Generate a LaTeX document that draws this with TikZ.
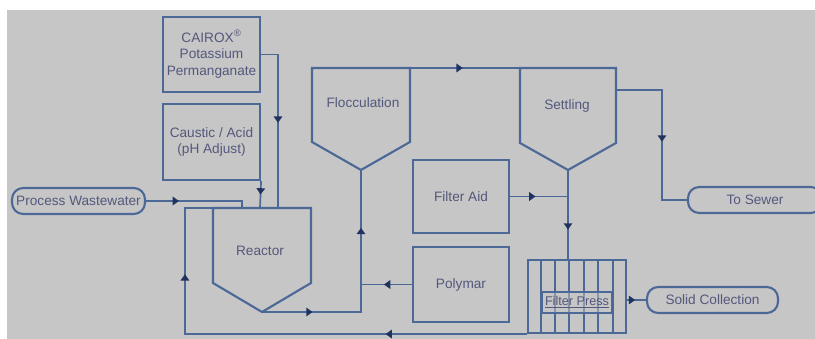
\documentclass[tikz,border=0pt]{standalone}
\usepackage{fontspec}
\setmainfont{Liberation Sans}
\usepackage{tikz}
\usetikzlibrary{
  arrows.meta,
  decorations.markings
}
\definecolor{PanelGray}{RGB}{198, 198, 198}
\definecolor{PipeBlue}{RGB}{76, 104, 150}
\definecolor{TipNavy}{RGB}{32, 50, 96}
\definecolor{LabelGray}{RGB}{84, 88, 124}
\tikzset{
    unitbox/.style={rectangle, draw=PipeBlue, line width=1.5pt, align=center, text=LabelGray,
        font=\fontsize{9.7}{12}\selectfont, inner sep=0pt},
    terminal/.style={unitbox, rounded corners=8pt},
    hopper/.style={draw=PipeBlue, line width=1.5pt},
    tanklabel/.style={text=LabelGray, font=\fontsize{9.7}{12}\selectfont},
    pipe/.style={draw=PipeBlue, line width=1.2pt},
    flowmark/.style={postaction={decorate, decoration={markings,
        mark=at position #1 with {\arrow[TipNavy]{Triangle[length=4.5pt, width=6pt]}}}}}
}

\begin{document}
\begin{tikzpicture}[x=0.025cm, y=-0.025cm]
    \useasboundingbox (0,0) rectangle (815,339);
    \fill[white] (0,0) rectangle (815,339);
    \fill[PanelGray] (7,10) rectangle (815,339);

    % chemical feeds
    \node[unitbox, minimum width=2.425cm, minimum height=1.875cm] (cairox) at (211.5,54.5)
        {CAIROX\textsuperscript{®}\\Potassium\\Permanganate};
    \node[unitbox, minimum width=2.425cm, minimum height=1.9cm] (caustic) at (211.5,142)
        {Caustic / Acid\\(pH Adjust)};
    \node[unitbox, minimum width=2.4cm, minimum height=1.825cm] (filteraid) at (461,196.5) {Filter Aid};
    \node[unitbox, minimum width=2.4cm, minimum height=1.875cm] (polymar) at (461,284.5) {Polymar};

    % terminals
    \node[terminal, minimum width=3.325cm, minimum height=0.65cm] (wastewater) at (78.5,201) {Process Wastewater};
    \node[terminal, minimum width=3.35cm, minimum height=0.65cm] (sewer) at (755,200) {To Sewer};
    \node[terminal, minimum width=3.275cm, minimum height=0.65cm] (solid) at (712.5,300) {Solid Collection};

    % reactor
    \coordinate (rx-nw) at (213,208);
    \coordinate (rx-ne) at (311,208);
    \coordinate (rx-bot) at (262,312);
    \coordinate (rx-in1) at (278,208);
    \coordinate (rx-in2) at (260,208);
    \coordinate (rx-in3) at (242,208);
    \draw[hopper] (rx-nw) -- (213,283) -- (rx-bot) -- (311,283) -- (rx-ne) -- cycle;
    \node[tanklabel] (reactor) at (260,251) {Reactor};

    % flocculation
    \coordinate (fl-nw) at (312,68);
    \coordinate (fl-ne) at (410,68);
    \coordinate (fl-bot) at (361,170);
    \draw[hopper] (fl-nw) -- (312,142) -- (fl-bot) -- (410,142) -- (fl-ne) -- cycle;
    \node[tanklabel] (floc) at (363,103) {Flocculation};

    % settling
    \coordinate (st-nw) at (520,68);
    \coordinate (st-ne) at (616,68);
    \coordinate (st-bot) at (568,170);
    \coordinate (st-out) at (616,90);
    \draw[hopper] (st-nw) -- (520,143) -- (st-bot) -- (616,143) -- (st-ne) -- cycle;
    \node[tanklabel] (settle) at (567,106) {Settling};

    % filter press
    \node[unitbox, minimum width=2.45cm, minimum height=1.825cm] (fpress) at (577,296.5) {};
    \foreach \x in {541,555,569,584,598,613}
        \draw[pipe] (\x,260) -- (\x,333);
    \node[unitbox, minimum width=1.75cm, minimum height=0.525cm, fill=PanelGray, fill opacity=0.5,
        text opacity=1, font=\fontsize{9}{11}\selectfont] (presslabel) at (577,302.5) {\underline{Filter Press}};

    % flows
    \draw[pipe, flowmark=0.5] (cairox.east) -| (rx-in1);
    \draw[pipe, flowmark=0.5] (caustic.south east) -- (rx-in2);
    \draw[pipe, flowmark=0.32] (wastewater.east) -| (rx-in3);
    \draw[pipe, flowmark=0.21, flowmark=0.76] (rx-bot) -| (fl-bot);
    \draw[pipe, flowmark=0.55] (polymar.west) -- (polymar.west -| fl-bot);
    \draw[pipe, flowmark=0.48] (fl-ne) -- (st-nw);
    \draw[pipe, flowmark=0.54] (st-out) -- ++(46,0) |- (sewer.west);
    \draw[pipe, flowmark=0.67] (st-bot) -- (st-bot |- fpress.north);
    \draw[pipe, flowmark=0.44] (filteraid.east) -- (filteraid.east -| st-bot);
    \draw[pipe, flowmark=0.43] (solid.west -| fpress.east) -- (solid.west);
    \draw[pipe, flowmark=0.285, flowmark=0.81] (fpress.south west) -- ++(-342,0) |- (rx-nw);
\end{tikzpicture}
\end{document}
